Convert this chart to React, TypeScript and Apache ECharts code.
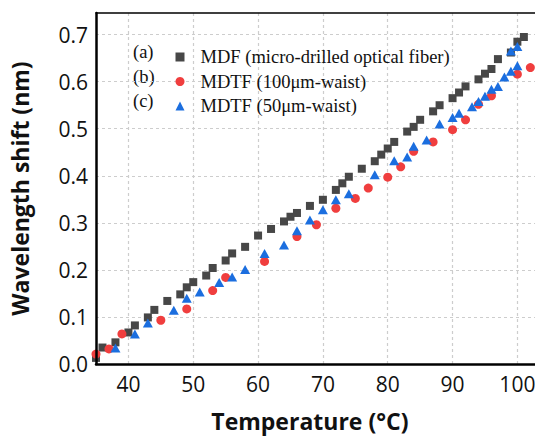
import React, { useEffect, useRef } from "react";
import * as echarts from "echarts";

// (a) MDF
const MDF_T = [35, 36, 38, 40, 41, 43, 44, 46, 48, 49, 50, 52, 53, 55, 56, 58, 60, 62, 64, 65, 66, 68, 70, 72, 73, 74, 76, 78, 79, 80, 81, 83, 84, 85, 87, 88, 90, 91, 92, 94, 95, 96, 97, 99, 100, 101];
const MDF_V = [0.013, 0.035, 0.046, 0.067, 0.082, 0.099, 0.115, 0.134, 0.148, 0.163, 0.174, 0.188, 0.204, 0.22, 0.235, 0.249, 0.273, 0.287, 0.303, 0.313, 0.321, 0.336, 0.349, 0.37, 0.384, 0.398, 0.415, 0.431, 0.445, 0.458, 0.472, 0.494, 0.504, 0.519, 0.537, 0.55, 0.565, 0.577, 0.59, 0.605, 0.617, 0.627, 0.648, 0.662, 0.685, 0.695];
// (b) MDTF 100um
const W100_T = [35, 37, 39, 45, 49, 53, 55, 61, 66, 69, 72, 75, 77, 80, 82, 84, 87, 90, 92, 94, 96, 100, 102];
const W100_V = [0.021, 0.032, 0.064, 0.093, 0.117, 0.156, 0.184, 0.218, 0.271, 0.296, 0.331, 0.352, 0.374, 0.397, 0.419, 0.452, 0.472, 0.498, 0.519, 0.552, 0.57, 0.616, 0.63];
// (c) MDTF 50um
const W50_T = [38, 41, 43, 47, 49, 51, 54, 56, 58, 61, 64, 66, 68, 70, 72, 74, 78, 81, 83, 84, 86, 88, 90, 91, 93, 94, 95, 96, 97, 98, 99, 100, 99, 100];
const W50_V = [0.034, 0.064, 0.087, 0.114, 0.14, 0.153, 0.173, 0.185, 0.201, 0.235, 0.253, 0.283, 0.306, 0.328, 0.349, 0.362, 0.402, 0.432, 0.44, 0.463, 0.476, 0.51, 0.524, 0.533, 0.547, 0.558, 0.569, 0.584, 0.59, 0.61, 0.622, 0.634, 0.665, 0.675];

const SERIES_NAMES = ["MDF (micro-drilled optical fiber)", "MDTF (100μm-waist)", "MDTF (50μm-waist)"];
const SERIES_TAGS = ["(a)", "(b)", "(c)"];
const X_GRID = [40, 50, 60, 70, 80, 90, 100];
const Y_GRID = [0.1, 0.2, 0.3, 0.4, 0.5, 0.6, 0.7];

const X_TITLE = "Temperature (°C)";
const Y_TITLE = "Wavelength shift (nm)";

const CHART_W = 560;
const CHART_H = 437;

export default function App() {
  const ref = useRef<HTMLDivElement>(null);
  useEffect(() => {
    if (!ref.current) return;
    const chart = echarts.init(ref.current, undefined, { renderer: "svg" });
    const pair = (t: number[], v: number[]) => t.map((x, i) => [x, v[i]]);
    const sansLabel = { fontFamily: "Open Sans", fontSize: 21, color: "#111" };
    const titleStyle = { fontFamily: "Open Sans", fontWeight: "bold" as const, fontSize: 23, color: "#111" };
    const serif = "Liberation Serif";
    const legendTop = 42;
    const rowPitch = 24.5;
    const gridLine = { type: [3, 3], color: "#cdcdcd", width: 1.2 };
    chart.setOption({
      animation: false,
      backgroundColor: "#fff",
      grid: {
        left: 94.3,
        right: CHART_W - 549.8,
        top: 13,
        bottom: CHART_H - 370.5,
      },
      xAxis: [
        {
          type: "value",
          min: 35,
          max: 105,
          interval: 5,
          axisLine: { show: true, onZero: false, lineStyle: { color: "#000", width: 2.5 } },
          axisTick: { show: false },
          splitLine: { show: false },
          axisLabel: {
            ...sansLabel,
            margin: 9,
            formatter: (v: number) => (v % 10 === 0 ? String(v) : ""),
          },
          name: X_TITLE,
          nameLocation: "middle",
          nameGap: 45,
          nameTextStyle: { ...titleStyle, padding: [0, 26, 0, 0] },
          z: 10,
        },
        {
          type: "value",
          position: "top",
          min: 35,
          max: 105,
          interval: 5,
          axisLine: { show: true, onZero: false, lineStyle: { color: "#000", width: 1.5 } },
          axisTick: { show: false },
          axisLabel: { show: false },
          splitLine: { show: false },
          z: 10,
        },
      ],
      yAxis: {
        type: "value",
        min: 0,
        max: 0.746,
        interval: 0.1,
        axisLine: { show: true, onZero: false, lineStyle: { color: "#000", width: 2.5 } },
        axisTick: { show: false },
        splitLine: { show: false },
        axisLabel: {
          ...sansLabel,
          margin: 8,
          showMaxLabel: false,
          formatter: (v: number) => v.toFixed(1),
        },
        name: Y_TITLE,
        nameLocation: "middle",
        nameRotate: 90,
        nameGap: 65,
        nameTextStyle: titleStyle,
        z: 10,
      },
      legend: {
        data: SERIES_NAMES,
        orient: "vertical",
        left: 170.5,
        top: legendTop,
        itemWidth: 9,
        itemHeight: 9,
        itemGap: rowPitch - 20,
        selectedMode: false,
        textStyle: { fontFamily: serif, fontSize: 18.5, color: "#111", lineHeight: 20, padding: [0, 0, 0, 11] },
      },
      graphic: SERIES_TAGS.map((t, i) => ({
        type: "text",
        x: 133,
        y: legendTop + 10 + i * rowPitch,
        style: { text: t, fontFamily: serif, fontSize: 18.5, fill: "#111", verticalAlign: "middle", align: "left" },
      })),
      series: [
        {
          name: "grid",
          type: "scatter",
          data: [[X_GRID[0], Y_GRID[0]]],
          symbolSize: 0,
          itemStyle: { opacity: 0 },
          z: 1,
          silent: true,
          markLine: {
            silent: true,
            z: 1,
            symbol: ["none", "none"],
            label: { show: false },
            lineStyle: gridLine,
            emphasis: { disabled: true },
            data: [
              ...X_GRID.map((x) => ({ xAxis: x })),
              ...Y_GRID.map((y) => ({ yAxis: y })),
            ],
          },
        },
        {
          name: SERIES_NAMES[0],
          type: "scatter",
          symbol: "rect",
          symbolSize: 8,
          itemStyle: { color: "#474747", opacity: 1 },
          data: pair(MDF_T, MDF_V),
          z: 3,
        },
        {
          name: SERIES_NAMES[1],
          type: "scatter",
          symbol: "circle",
          symbolSize: 9,
          itemStyle: { color: "#f03e3e", opacity: 1 },
          data: pair(W100_T, W100_V),
          z: 4,
        },
        {
          name: SERIES_NAMES[2],
          type: "scatter",
          symbol: "triangle",
          symbolSize: [10, 9],
          itemStyle: { color: "#1b6edf", opacity: 1 },
          data: pair(W50_T, W50_V),
          z: 5,
        },
      ],
    });
    return () => chart.dispose();
  }, []);
  return (
    <div style={{ position: "absolute", left: 0, top: 0, width: 535, height: 437, overflow: "hidden", background: "#fff" }}>
      <div ref={ref} style={{ width: CHART_W, height: CHART_H }} />
    </div>
  );
}
